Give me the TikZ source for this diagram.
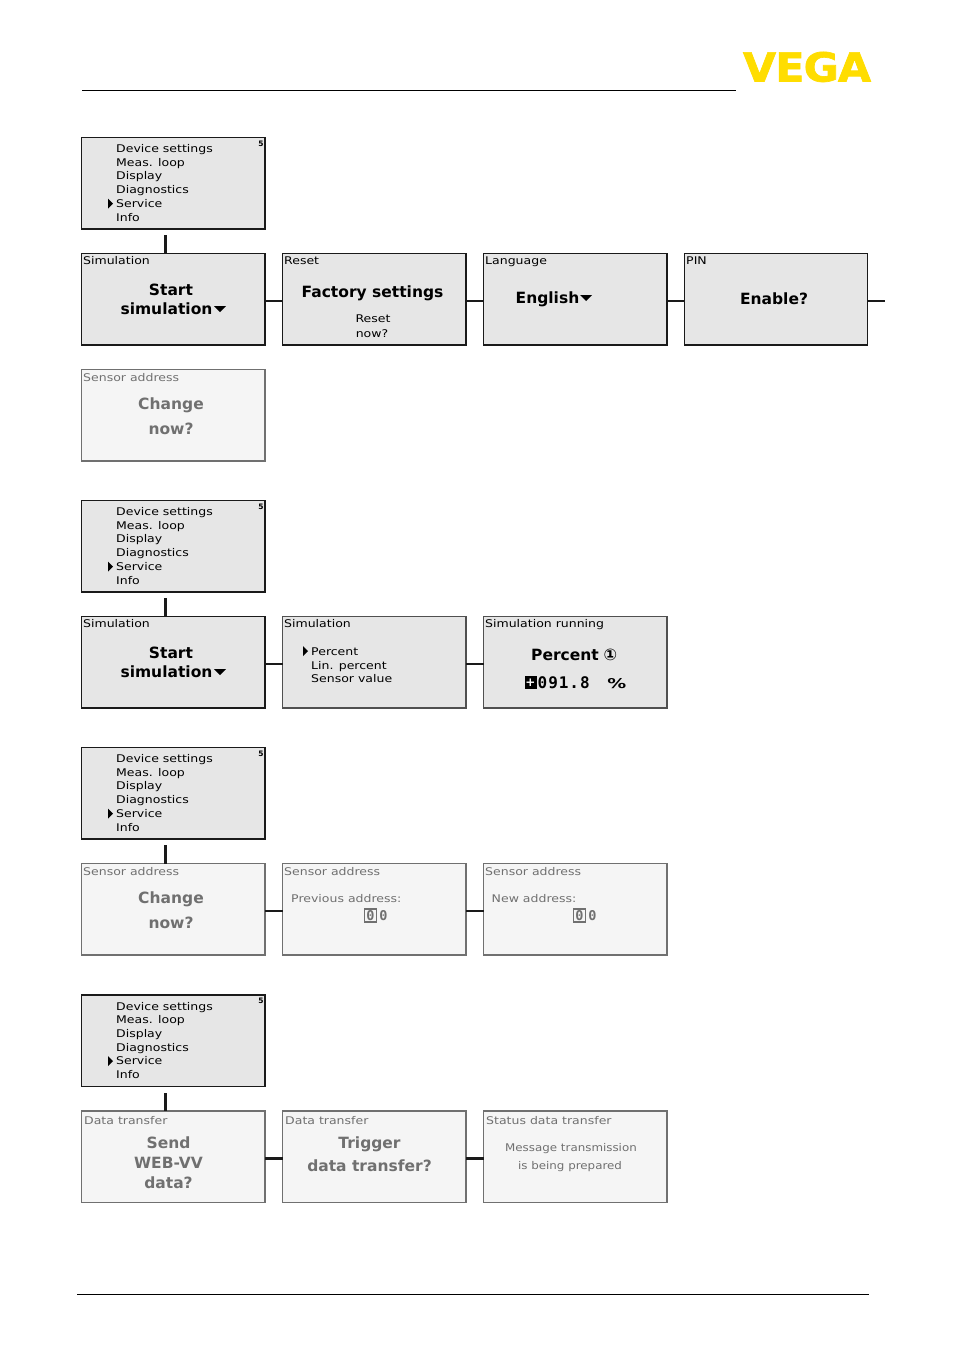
\documentclass[tikz,border=0pt]{standalone}
\usepackage{fontspec}
\setmainfont{DejaVu Sans}
\newfontfamily\lcdmono{DejaVu Sans Mono}
\newfontfamily\lcdwide[FakeStretch=1.18]{DejaVu Sans}
\newfontfamily\lcdmed[FakeStretch=1.12]{DejaVu Sans}
\newfontfamily\lcdval[LetterSpace=6]{DejaVu Sans Mono}
\newfontfamily\logofont[BoldFeatures={FakeBold=1.6,LetterSpace=-2}]{DejaVu Sans}
\definecolor{dk}{HTML}{1A1A1A}
\definecolor{md}{HTML}{505050}
\definecolor{gy}{HTML}{707070}
\definecolor{fillA}{HTML}{E6E6E6}
\definecolor{fillB}{HTML}{F5F5F5}
\definecolor{vega}{HTML}{FFDD00}
\tikzset{
  lcdbox/.style={draw=dk,line width=1.2pt,fill=fillA,anchor=north west,minimum width=183.5pt,minimum height=91.5pt,inner sep=0pt,outer sep=0pt},
  lcdoff/.style={lcdbox,draw=gy,fill=fillB,line width=1.2pt},
  conn/.style={draw=dk,line width=1.8pt},
  connb/.style={draw=dk,line width=2.6pt},
  connv/.style={draw=dk,line width=2.4pt},
  small/.style={inner sep=0pt,anchor=base west,text=black,font=\lcdwide\fontsize{10.6}{12}\selectfont},
  smalloff/.style={small,text=gy},
  big/.style={inner sep=0pt,anchor=base,text=black,font=\fontsize{15.5}{18}\selectfont\bfseries},
  bigoff/.style={big,text=gy},
  mid/.style={inner sep=0pt,anchor=base,font=\lcdwide\fontsize{10.6}{12}\selectfont},
  midoff/.style={inner sep=0pt,anchor=base,text=gy,font=\lcdmed\fontsize{10.6}{12}\selectfont},
  cursorzero/.style={draw=gy,line width=1.3pt,rectangle,inner sep=0pt,minimum width=12pt,minimum height=13pt,text=gy,font=\fontsize{13.5}{14}\selectfont\lcdmono\bfseries},
  plainzero/.style={inner sep=0pt,text=gy,font=\fontsize{13.5}{14}\selectfont\lcdmono\bfseries},
  rule/.style={draw=black,line width=0.7pt}
}
\newcommand{\lcdmenu}[3]{% name, x, ytop
  \node[lcdbox] (#1) at (#2,#3) {};
  \node[small] (#1a) at (#2+34.5,#3+15) {Device settings};
  \node[small] (#1b) at (#2+34.5,#3+28.5) {Meas. loop};
  \node[small] (#1c) at (#2+34.5,#3+42) {Display};
  \node[small] (#1d) at (#2+34.5,#3+56) {Diagnostics};
  \node[small] (#1e) at (#2+34.5,#3+69.5) {Service};
  \node[small] (#1f) at (#2+34.5,#3+83.5) {Info};
  \node[inner sep=0pt,anchor=center,font=\fontsize{7.5}{8}\selectfont\bfseries] (#1g) at (#2+179.5,#3+6) {5};
  \fill[black] (#2+26.5,#3+61) -- (#2+31.5,#3+66) -- (#2+26.5,#3+71) -- cycle;
}
\newcommand{\downtri}[2]{\fill[black] (#1,#2) -- (#1+12,#2) -- (#1+6,#2+6) -- cycle;}
\begin{document}
\begin{tikzpicture}[x=1pt,y=-1pt]
\useasboundingbox (0,0) rectangle (953,1352);
\fill[white] (0,0) rectangle (953,1352);
% header / footer
\coordinate (hl) at (82,90.5); \coordinate (hr) at (736,90.5);
\coordinate (fl) at (77,1294.5); \coordinate (fr) at (869,1294.5);
\draw[rule] (hl) -- (hr);
\draw[rule] (fl) -- (fr);
\node[inner sep=0pt,anchor=base,text=vega,font=\logofont\fontsize{40}{41}\selectfont\bfseries,xscale=1.07] (logo) at (807,81.5) {VEGA};

% ---- group 1
\lcdmenu{ma}{81.5}{137.5}
\node[lcdbox] (a1) at (81.5,253.5) {};
\node[small] (a1t) at (83,264) {Simulation};
\node[big] (a1x) at (171,295) {Start};
\node[big] (a1y) at (166.5,314) {simulation};
\downtri{214}{306}
\node[lcdbox] (a2) at (282.5,253.5) {};
\node[small] (a2t) at (284,264) {Reset};
\node[big] (a2x) at (372.5,297.5) {Factory settings};
\node[mid] (a2y) at (373,322) {Reset};
\node[mid] (a2z) at (372,337) {now?};
\node[lcdbox] (a3) at (483.5,253.5) {};
\node[small] (a3t) at (485,264) {Language};
\node[big] (a3x) at (547.5,303) {English};
\downtri{580}{295}
\node[lcdbox,minimum width=183pt] (a4) at (684.5,253.5) {};
\node[small] (a4t) at (686,264) {PIN};
\node[big] (a4x) at (774,304) {Enable?};
\node[lcdoff] (a5) at (81.5,369.5) {};
\node[smalloff] (a5t) at (83,381) {Sensor address};
\node[bigoff] (a5x) at (171,409.5) {Change};
\node[bigoff] (a5y) at (171,434) {now?};
\coordinate (ats) at (165.5,235);
\coordinate (ate) at ([xshift=17.5pt,yshift=-2pt]a4.east);
\draw[connv] (ats) -- (ats |- a1.north);
\draw[conn] ([yshift=-2pt]a1.east) -- ([yshift=-2pt]a2.west);
\draw[conn] ([yshift=-2pt]a2.east) -- ([yshift=-2pt]a3.west);
\draw[conn] ([yshift=-2pt]a3.east) -- ([yshift=-2pt]a4.west);
\draw[conn] ([yshift=-2pt]a4.east) -- (ate);

% ---- group 2
\lcdmenu{mb}{81.5}{500.5}
\node[lcdbox] (b1) at (81.5,616.5) {};
\node[small] (b1t) at (83,627) {Simulation};
\node[big] (b1x) at (171,658) {Start};
\node[big] (b1y) at (166.5,677) {simulation};
\downtri{214}{669}
\node[lcdbox,draw=md] (b2) at (282.5,616.5) {};
\node[small] (b2t) at (284,627) {Simulation};
\node[small] (b2a) at (311,655) {Percent};
\node[small] (b2b) at (311,669) {Lin. percent};
\node[small] (b2c) at (311,682.5) {Sensor value};
\fill[black] (303,646) -- (308,651) -- (303,656) -- cycle;
\node[lcdbox,draw=md] (b3) at (483.5,616.5) {};
\node[small] (b3t) at (485,627) {Simulation running};
\node[big] (b3x) at (565,660.5) {Percent};
\node[inner sep=0pt,anchor=center,font=\fontsize{16}{16}\selectfont\bfseries] (b3c) at (610.5,655) {①};
\node[fill=black,text=white,inner sep=0pt,minimum width=12pt,minimum height=13pt,font=\fontsize{12}{12}\selectfont\bfseries] (b3p) at (530.5,682.5) {+};
\node[inner sep=0pt,anchor=base west,font=\lcdval\fontsize{16}{16}\selectfont\bfseries] (b3v) at (537.5,688) {091.8};
\node[inner sep=0pt,anchor=base west,xscale=1.4,font=\fontsize{13.5}{16}\selectfont\bfseries] (b3u) at (607,688) {\%};
\coordinate (bts) at (165.5,598);
\draw[connv] (bts) -- (bts |- b1.north);
\draw[conn] ([yshift=-2pt]b1.east) -- ([yshift=-2pt]b2.west);
\draw[conn] ([yshift=-2pt]b2.east) -- ([yshift=-2pt]b3.west);

% ---- group 3
\lcdmenu{mc}{81.5}{747.5}
\node[lcdoff] (c1) at (81.5,863.5) {};
\node[smalloff] (c1t) at (83,875) {Sensor address};
\node[bigoff] (c1x) at (171,903.5) {Change};
\node[bigoff] (c1y) at (171,928) {now?};
\node[lcdoff] (c2) at (282.5,863.5) {};
\node[smalloff] (c2t) at (284,875) {Sensor address};
\node[smalloff] (c2a) at (291,902) {Previous address:};
\node[cursorzero] (c2d) at (370.5,915.5) {0};
\node[plainzero] (c2e) at (383.5,915.5) {0};
\node[lcdoff] (c3) at (483.5,863.5) {};
\node[smalloff] (c3t) at (485,875) {Sensor address};
\node[smalloff] (c3a) at (491.5,902) {New address:};
\node[cursorzero] (c3d) at (579.5,915.5) {0};
\node[plainzero] (c3e) at (592.5,915.5) {0};
\coordinate (cts) at (165.5,845);
\draw[connv] (cts) -- (cts |- c1.north);
\draw[conn] ([yshift=-2pt]c1.east) -- ([yshift=-2pt]c2.west);
\draw[conn] ([yshift=-2pt]c2.east) -- ([yshift=-2pt]c3.west);

% ---- group 4
\lcdmenu{md}{81.5}{995}
\node[lcdoff] (d1) at (81.5,1111) {};
\node[smalloff] (d1t) at (84,1124) {Data transfer};
\node[bigoff] (d1x) at (168.5,1148) {Send};
\node[bigoff] (d1y) at (168.5,1168) {WEB-VV};
\node[bigoff] (d1z) at (168.5,1188) {data?};
\node[lcdoff] (d2) at (282.5,1111) {};
\node[smalloff] (d2t) at (285,1124) {Data transfer};
\node[bigoff] (d2x) at (369.5,1148) {Trigger};
\node[bigoff] (d2y) at (369.5,1171) {data transfer?};
\node[lcdoff] (d3) at (483.5,1111) {};
\node[smalloff] (d3t) at (486,1124) {Status data transfer};
\node[midoff] (d3x) at (571,1151) {Message transmission};
\node[midoff] (d3y) at (570,1169) {is being prepared};
\coordinate (dts) at (165.5,1093);
\draw[connv] (dts) -- (dts |- d1.north);
\draw[connb] ([yshift=-2pt]d1.east) -- ([yshift=-2pt]d2.west);
\draw[connb] ([yshift=-2pt]d2.east) -- ([yshift=-2pt]d3.west);
\end{tikzpicture}
\end{document}
